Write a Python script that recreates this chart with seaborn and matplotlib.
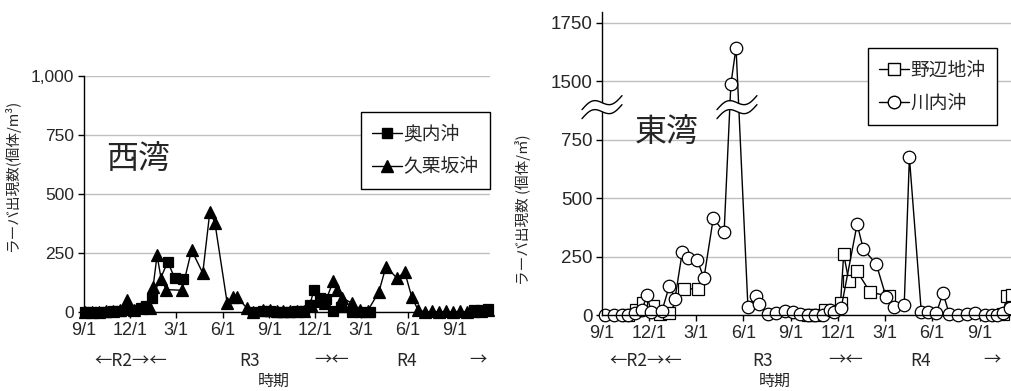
import numpy as np
import pandas as pd
import matplotlib
matplotlib.use("Agg")
import matplotlib.pyplot as plt
from matplotlib.lines import Line2D
import seaborn as sns

# ---- 西湾 ----
okunai_dates = ["2020-09-03", "2020-09-17", "2020-10-01", "2020-10-14", "2020-10-28", "2020-11-11",
                "2020-11-25", "2020-12-09", "2020-12-22", "2021-01-01", "2021-01-13", "2021-02-13",
                "2021-02-27", "2021-03-15",
                "2021-07-31", "2021-08-20", "2021-09-02", "2021-09-16", "2021-09-28", "2021-10-12",
                "2021-10-26", "2021-11-08", "2021-11-20", "2021-11-28", "2021-12-10", "2021-12-22",
                "2022-01-05", "2022-01-20", "2022-02-11", "2022-02-27", "2022-03-18",
                "2022-10-09", "2022-10-23", "2022-11-06"]
okunai_vals = [0, 0, 0, 0, 3, 5, 8, 10, 15, 25, 60, 212, 143, 138,
               0, 3, 3, 0, 0, 0, 3, 5, 30, 93, 60, 55, 5, 20, 0, 0, 0,
               8, 10, 12]
okunai_seg = [0] * 14 + [1] * 17 + [2] * 3

kurizaka_dates = ["2020-09-03", "2020-09-17", "2020-10-01", "2020-10-14", "2020-10-28", "2020-11-11",
                  "2020-11-25", "2020-12-09", "2020-12-22", "2021-01-01", "2021-01-09", "2021-01-15",
                  "2021-01-23", "2021-01-31", "2021-02-10", "2021-03-13", "2021-04-01", "2021-04-23",
                  "2021-05-07", "2021-05-17", "2021-06-10", "2021-06-22", "2021-06-29", "2021-07-19",
                  "2021-07-31", "2021-08-20", "2021-09-02", "2021-09-16", "2021-09-28", "2021-10-12",
                  "2021-10-26", "2021-11-08", "2021-11-22", "2021-12-06", "2021-12-20", "2022-01-05",
                  "2022-01-12", "2022-01-22", "2022-02-11", "2022-02-27", "2022-03-14", "2022-04-05",
                  "2022-04-19", "2022-05-11", "2022-05-26", "2022-06-09", "2022-06-21", "2022-07-05",
                  "2022-07-19", "2022-08-01", "2022-08-15", "2022-08-29", "2022-09-12", "2022-09-26",
                  "2022-10-09", "2022-10-23", "2022-11-06"]
kurizaka_vals = [0, 0, 0, 3, 5, 8, 52, 10, 15, 20, 15, 105,
                 240, 140, 95, 92, 262, 165, 425, 377, 40, 65, 63, 17,
                 0, 8, 8, 5, 5, 3, 3, 5, 30, 45, 40, 130,
                 93, 60, 38, 8, 5, 85, 192, 143, 170, 62, 10, 0,
                 3, 0, 3, 0, 3, 0, 3, 5, 8]

# ---- 東湾 ----
nohechi_dates = ["2020-10-21", "2020-11-06", "2020-11-19", "2020-12-09", "2020-12-22", "2021-01-09",
                 "2021-02-07", "2021-03-06",
                 "2021-10-04", "2021-10-18", "2021-11-06", "2021-12-06", "2021-12-12", "2021-12-22",
                 "2022-01-06", "2022-02-01", "2022-03-10",
                 "2022-10-15", "2022-10-24", "2022-11-03"]
nohechi_vals = [0, 20, 52, 40, 4, 10, 111, 113,
                0, 0, 20, 53, 260, 146, 190, 98, 80,
                5, 82, 85]
nohechi_seg = [0] * 8 + [1] * 9 + [2] * 3

kawauchi_dates = ["2020-09-07", "2020-09-24", "2020-10-10", "2020-10-21", "2020-11-04", "2020-11-17",
                  "2020-11-27", "2020-12-05", "2020-12-26", "2021-01-09", "2021-01-20", "2021-02-03",
                  "2021-02-14", "2021-03-04", "2021-03-17", "2021-04-04", "2021-04-25", "2021-05-08",
                  "2021-05-18", "2021-06-10", "2021-06-26", "2021-07-02", "2021-07-19", "2021-08-04",
                  "2021-08-21", "2021-09-05", "2021-09-19", "2021-10-04", "2021-10-18", "2021-11-02",
                  "2021-11-16", "2021-11-24", "2021-12-07", "2022-01-07", "2022-01-19", "2022-02-13",
                  "2022-03-04", "2022-03-20", "2022-04-08", "2022-04-18", "2022-05-11", "2022-05-24",
                  "2022-06-09", "2022-06-22", "2022-07-04", "2022-07-20", "2022-08-08", "2022-08-23",
                  "2022-09-12", "2022-09-25", "2022-10-05", "2022-10-15", "2022-10-30"]
kawauchi_vals = [0, 0, 0, 0, 8, 20, 85, 13, 18, 124, 70, 268,
                 245, 235, 158, 414, 355, 1460, 1645, 34, 81, 45, 4, 8,
                 17, 12, 4, 0, 0, 0, 22, 12, 28, 389, 282, 218,
                 77, 34, 43, 675, 13, 12, 8, 94, 4, 0, 3, 8,
                 0, 0, 0, 8, 30]

tick_dates = ["2020-09-01", "2020-12-01", "2021-03-01", "2021-06-01", "2021-09-01",
              "2021-12-01", "2022-03-01", "2022-06-01", "2022-09-01"]
tick_labels = ["9/1", "12/1", "3/1", "6/1", "9/1", "12/1", "3/1", "6/1", "9/1"]
west_yticks = [0, 250, 500, 750, 1000]
west_ylabels = ["0", "250", "500", "750", "1,000"]
east_yticks = [0, 250, 500, 750, 1500, 1750]
east_ylabels = ["0", "250", "500", "750", "1500", "1750"]
period_labels = ["←R2→←", "R3", "→←", "R4", "→"]


def frame(site, dates, vals, seg=None):
    if seg is None:
        seg = [0] * len(vals)
    return pd.DataFrame({"date": pd.to_datetime(dates), "value": vals, "site": site, "seg": seg})


sns.set_theme(style="white")
plt.rcParams["font.family"] = ["Liberation Sans", "Noto Sans CJK JP", "DejaVu Sans"]
JP = ["Noto Sans CJK JP", "DejaVu Sans"]

fig = plt.figure(figsize=(10.12, 3.91), dpi=100)
ax1 = fig.add_axes([84 / 1012, 1 - 312 / 391, 406 / 1012, 236 / 391])
ax2 = fig.add_axes([602 / 1012, 1 - 315 / 391, 414 / 1012, 303 / 391])

x0, x1 = pd.Timestamp("2020-09-01"), pd.Timestamp("2022-11-10")


def draw(ax, df, marker, ms, fc):
    sns.lineplot(data=df, x="date", y="value", units="seg", estimator=None, sort=False,
                 color="black", linewidth=1.0, marker=marker, markersize=ms,
                 markerfacecolor=fc, markeredgecolor="black", markeredgewidth=0.9,
                 legend=False, ax=ax, clip_on=False)


# 西湾
draw(ax1, frame("奥内沖", okunai_dates, okunai_vals, okunai_seg), "s", 7.5, "black")
draw(ax1, frame("久栗坂沖", kurizaka_dates, kurizaka_vals), "^", 9, "black")


# 東湾 (縦軸を750〜1500で圧縮)
def fwd(v):
    v = np.asarray(v, dtype=float)
    return np.where(v <= 750, v, np.where(v <= 1500, 750 + (v - 750) / 3, v - 500))


def inv(d):
    d = np.asarray(d, dtype=float)
    return np.where(d <= 750, d, np.where(d <= 1000, 750 + (d - 750) * 3, d + 500))


draw(ax2, frame("野辺地沖", nohechi_dates, nohechi_vals, nohechi_seg), "s", 8, "white")
draw(ax2, frame("川内沖", kawauchi_dates, kawauchi_vals), "o", 9, "white")
ax2.set_yscale("function", functions=(fwd, inv))

for ax, yt, yl, ytop, ysize in [(ax1, west_yticks, west_ylabels, 1000, 12.5),
                                (ax2, east_yticks, east_ylabels, 1797, 13.5)]:
    ax.set_xlim(x0, x1)
    ax.set_ylim(0, ytop)
    ax.set_yticks(yt)
    ax.set_yticklabels(yl)
    ax.set_xticks(pd.to_datetime(tick_dates))
    ax.set_xticklabels(tick_labels)
    ax.set_xlabel("")
    ax.set_ylabel("")
    ax.yaxis.grid(True, color="#bfbfbf", linewidth=1)
    ax.xaxis.grid(False)
    ax.set_axisbelow(True)
    for s in ["top", "right"]:
        ax.spines[s].set_visible(False)
    for s in ["left", "bottom"]:
        ax.spines[s].set_color("black")
        ax.spines[s].set_linewidth(1)
    ax.tick_params(axis="both", direction="out", length=4, width=1, color="black",
                   pad=3, bottom=True, left=True)
    ax.tick_params(axis="y", labelsize=ysize)
    ax.tick_params(axis="x", labelsize=13)


# 波線(軸の省略)
def wave_break(ax, xc, yc):
    t = np.linspace(0, 1, 80)
    w = 40 / 414
    xs = xc + (t - 0.5) * w
    base = yc + (5 / 303) * np.sin(2 * np.pi * t) + (14 / 303) * (t - 0.5)
    g = 9 / 303
    ax.fill_between(xs, base - g / 2, base + g / 2, color="white", transform=ax.transAxes,
                    clip_on=False, zorder=6, linewidth=0)
    for off in (-g / 2, g / 2):
        ax.plot(xs, base + off, color="black", linewidth=1, transform=ax.transAxes,
                clip_on=False, zorder=7)


wave_break(ax2, 0.0, 0.686)
wave_break(ax2, 0.326, 0.686)

# 湾名
ax1.text(0.055, 0.645, "西湾", transform=ax1.transAxes, fontsize=23, family=JP, va="center")
ax2.text(0.08, 0.6, "東湾", transform=ax2.transAxes, fontsize=23, family=JP, va="center")

# 凡例
h1 = [Line2D([], [], color="black", lw=1, marker="s", ms=7.5, mfc="black", mec="black"),
      Line2D([], [], color="black", lw=1, marker="^", ms=9, mfc="black", mec="black")]
h2 = [Line2D([], [], color="black", lw=1, marker="s", ms=8, mfc="white", mec="black"),
      Line2D([], [], color="black", lw=1, marker="o", ms=9, mfc="white", mec="black")]
for ax, hh, labs, anchor in [(ax1, h1, ["奥内沖", "久栗坂沖"], (1.0, 0.847)),
                             (ax2, h2, ["野辺地沖", "川内沖"], (0.954, 0.881))]:
    lg = ax.legend(hh, labs, loc="upper right", bbox_to_anchor=anchor, borderaxespad=0,
                   frameon=True, fancybox=False, edgecolor="black", framealpha=1,
                   prop={"family": JP, "size": 13.5}, handlelength=1.6, handletextpad=0.1,
                   labelspacing=0.65, borderpad=0.6)
    lg.get_frame().set_linewidth(1)
    lg.set_zorder(10)

# 年度表示
west_pos = [131, 250, 332, 407, 478]
east_pos = [646, 763, 846, 921, 992]
for xs in (west_pos, east_pos):
    for px, lab in zip(xs, period_labels):
        fig.text(px / 1012, 1 - 361 / 391, lab, ha="center", va="center", fontsize=12.5, family=JP)

fig.text(274 / 1012, 1 - 381 / 391, "時期", ha="center", va="center", fontsize=11.5, family=JP)
fig.text(775 / 1012, 1 - 381 / 391, "時期", ha="center", va="center", fontsize=11.5, family=JP)
fig.text(12 / 1012, 1 - 175 / 391, "ラーバ出現数(個体/m³)", rotation=90, ha="center", va="center",
         fontsize=10.5, family=JP)
fig.text(523 / 1012, 1 - 210 / 391, "ラーバ出現数 (個体/㎥)", rotation=90, ha="center", va="center",
         fontsize=10.5, family=JP)

fig.savefig("out.png", dpi=100)
